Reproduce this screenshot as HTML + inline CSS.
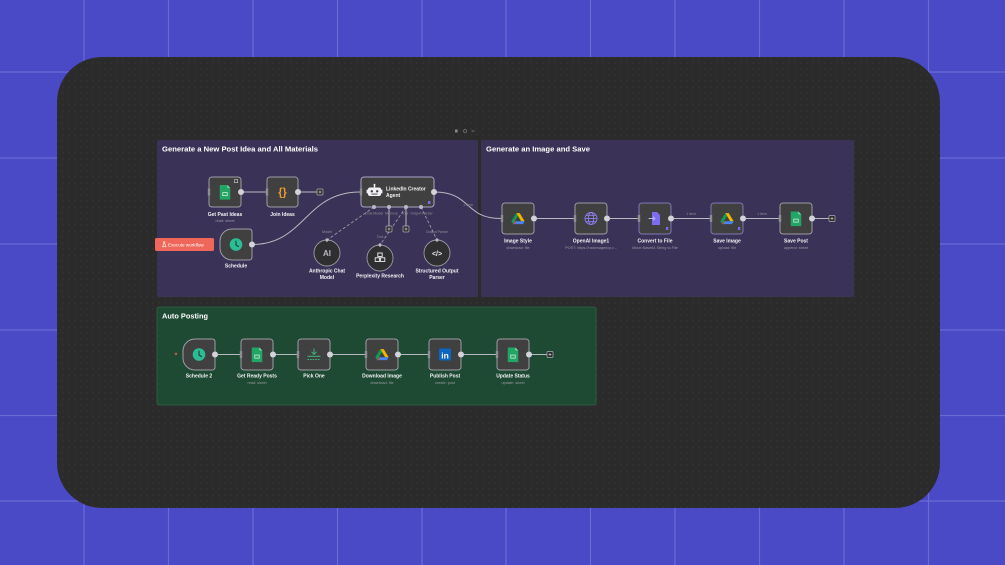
<!DOCTYPE html>
<html><head><meta charset="utf-8"><style>
html,body{margin:0;padding:0;width:1005px;height:565px;overflow:hidden;background:#4a49c6;}
svg{display:block;}
text{font-family:"Liberation Sans",sans-serif;}
.t{fill:#ffffff;font-size:7.6px;font-weight:bold;}
.l{fill:#f2f2f5;font-size:5px;font-weight:bold;text-anchor:middle;}
.s{fill:#9a9aa2;font-size:3.8px;text-anchor:middle;}
.h{fill:#8f8f97;font-size:3.6px;text-anchor:middle;}
.node{fill:#404040;stroke:#9c9ca6;stroke-width:1;}
.cn{fill:none;stroke:#b8b8c0;stroke-width:1;}
.dash{fill:none;stroke:#9a9aa4;stroke-width:0.9;stroke-dasharray:3 2;}
.oh{fill:#d2d2da;}
.ih{fill:#8d8d95;}
</style></head><body>
<svg width="1005" height="565" viewBox="0 0 1005 565" xmlns="http://www.w3.org/2000/svg">
<defs>
<pattern id="dots" width="6" height="6" patternUnits="userSpaceOnUse">
<rect width="6" height="6" fill="#2b2b2b"/>
<circle cx="3" cy="3" r="0.6" fill="#3d3d3d"/>
</pattern>
<symbol id="sheet" viewBox="-6 -7 12 14" overflow="visible">
<path d="M-4,-6 H2 L4.5,-3.5 V6 Q4.5,6.5 4,6.5 H-4 Q-4.5,6.5 -4.5,6 V-5.5 Q-4.5,-6 -4,-6 Z" fill="#22a565"/>
<path d="M2,-6 V-3.5 H4.5 Z" fill="#8fd7b0"/>
<rect x="-2.2" y="0.2" width="4.4" height="3.2" fill="#ffffff" opacity="0.9"/>
<rect x="-1.6" y="0.8" width="3.2" height="2" fill="#22a565"/>
</symbol>
<symbol id="drive" viewBox="-7 -6 14 12" overflow="visible">
<polygon points="-1.6,-5 1.6,-5 6.2,2.6 3,2.6" fill="#f4b400"/>
<polygon points="-1.6,-5 0,-2.3 -4.6,5.2 -6.2,2.6" fill="#0f9d58"/>
<polygon points="-3,2.6 6.2,2.6 4.6,5.2 -4.6,5.2" fill="#4285f4"/>
<polygon points="-4.6,5.2 -3,2.6 -1.6,2.6 -3,5.2" fill="#db4437"/>
</symbol>
</defs>

<!-- background grid -->
<rect width="1005" height="565" fill="#4a49c6"/>
<g stroke="#6c6bd6" stroke-width="1.2">
<line x1="84" y1="0" x2="84" y2="565"/><line x1="168.5" y1="0" x2="168.5" y2="565"/>
<line x1="253" y1="0" x2="253" y2="565"/><line x1="337.5" y1="0" x2="337.5" y2="565"/>
<line x1="422" y1="0" x2="422" y2="565"/><line x1="506" y1="0" x2="506" y2="565"/>
<line x1="590.5" y1="0" x2="590.5" y2="565"/><line x1="675" y1="0" x2="675" y2="565"/>
<line x1="759.5" y1="0" x2="759.5" y2="565"/><line x1="844" y1="0" x2="844" y2="565"/>
<line x1="928.5" y1="0" x2="928.5" y2="565"/>
<line x1="0" y1="72" x2="1005" y2="72"/><line x1="0" y1="158" x2="1005" y2="158"/>
<line x1="0" y1="244" x2="1005" y2="244"/><line x1="0" y1="330" x2="1005" y2="330"/>
<line x1="0" y1="415.5" x2="1005" y2="415.5"/><line x1="0" y1="501" x2="1005" y2="501"/>
</g>

<!-- dark canvas -->
<rect x="57" y="57" width="883" height="451" rx="45" fill="url(#dots)"/>

<!-- top tiny controls -->
<rect x="455" y="129.5" width="2.6" height="3" rx="0.5" fill="#8a8a8a"/>
<circle cx="465" cy="131" r="1.5" fill="none" stroke="#777" stroke-width="0.7"/>
<rect x="471.5" y="130.6" width="3" height="0.9" fill="#777"/>

<!-- sections -->
<rect x="157" y="140" width="321" height="157" rx="2" fill="#3a3357"/>
<rect x="481" y="140" width="373" height="157" rx="2" fill="#3a3357"/>
<rect x="157" y="307" width="439" height="98" rx="2" fill="#1e4a33" stroke="#2c6446" stroke-width="0.8"/>

<text class="t" x="162" y="151.5" textLength="156" lengthAdjust="spacingAndGlyphs">Generate a New Post Idea and All Materials</text>
<text class="t" x="486" y="151.5" textLength="104" lengthAdjust="spacingAndGlyphs">Generate an Image and Save</text>
<text class="t" x="162" y="318.5" textLength="46" lengthAdjust="spacingAndGlyphs">Auto Posting</text>

<!-- ===== SECTION 1 connectors ===== -->
<line class="cn" x1="241" y1="192" x2="266" y2="192"/>
<line class="cn" x1="298" y1="192" x2="317" y2="192"/>
<path class="cn" d="M252,244.5 C305,244.5 305,192 360,192"/>
<path class="cn" d="M434,192 C472,192 464,218.5 501,218.5"/>
<text class="h" x="468" y="206">1 item</text>

<line class="cn" x1="389" y1="207" x2="389" y2="226"/>
<line class="cn" x1="406" y1="207" x2="406" y2="226"/>
<path class="dash" d="M374,207 L327,240"/>
<path class="dash" d="M406,207 L380,245"/>
<path class="dash" d="M421,207 L437,240"/>

<!-- plus boxes -->
<g fill="#2b2b2b" stroke="#b0b0b8" stroke-width="0.7">
<rect x="317" y="189" width="6" height="6" rx="1"/>
<rect x="386" y="226" width="6" height="6" rx="1"/>
<rect x="403" y="226" width="6" height="6" rx="1"/>
</g>
<g stroke="#e0e0e6" stroke-width="0.6">
<line x1="318.5" y1="192" x2="321.5" y2="192"/><line x1="320" y1="190.5" x2="320" y2="193.5"/>
<line x1="387.5" y1="229" x2="390.5" y2="229"/><line x1="389" y1="227.5" x2="389" y2="230.5"/>
<line x1="404.5" y1="229" x2="407.5" y2="229"/><line x1="406" y1="227.5" x2="406" y2="230.5"/>
</g>

<!-- Get Past Ideas -->
<rect class="node" x="209" y="177" width="32" height="30" rx="3"/>
<use href="#sheet" x="218" y="183.5" width="14" height="17"/>
<rect x="234.5" y="179.5" width="3.2" height="3.2" fill="none" stroke="#cfcfd6" stroke-width="0.6"/>
<rect class="ih" x="207.8" y="188.5" width="2.4" height="7"/>
<circle class="oh" cx="241" cy="192" r="3"/>
<text class="l" x="225" y="216">Get Past Ideas</text>
<text class="s" x="225" y="222">read: sheet</text>

<!-- Join Ideas -->
<rect class="node" x="267" y="177" width="31" height="30" rx="3"/>
<text x="282.5" y="195.5" font-size="11" font-weight="bold" fill="#f39a34" text-anchor="middle" font-family="Liberation Mono, monospace">{}</text>
<rect class="ih" x="265.8" y="188.5" width="2.4" height="7"/>
<circle class="oh" cx="298" cy="192" r="3"/>
<text class="l" x="282.5" y="216">Join Ideas</text>

<!-- LinkedIn Creator Agent -->
<rect class="node" x="361" y="177" width="73" height="30" rx="3" style="stroke:#a9a4c8"/>
<g fill="#f0f0f4">
<rect x="368" y="187.5" width="13" height="8.5" rx="2"/>
<rect x="373.8" y="185" width="1.4" height="2.5"/>
<circle cx="374.5" cy="184.8" r="1"/>
<rect x="366.6" y="189.5" width="1.4" height="4" rx="0.6"/>
<rect x="381" y="189.5" width="1.4" height="4" rx="0.6"/>
</g>
<circle cx="371.8" cy="191.3" r="1.2" fill="#404040"/>
<circle cx="377.2" cy="191.3" r="1.2" fill="#404040"/>
<rect x="371.5" y="193.6" width="6" height="0.9" fill="#404040"/>
<text x="386" y="190.5" font-size="5" font-weight="bold" fill="#f2f2f5">LinkedIn Creator</text>
<text x="386" y="197" font-size="5" font-weight="bold" fill="#f2f2f5">Agent</text>
<rect x="428" y="201" width="2.4" height="3" fill="#7b6cf0"/>
<rect class="ih" x="359.8" y="188.5" width="2.4" height="7"/>
<circle class="oh" cx="434" cy="192" r="3"/>
<g fill="#b9b9c2">
<circle cx="374" cy="207" r="2"/><circle cx="389" cy="207" r="2"/>
<circle cx="406" cy="207" r="2"/><circle cx="421" cy="207" r="2"/>
</g>
<text class="h" x="374" y="214.5">Chat Model</text>
<text class="h" x="391.5" y="214.5">Memory</text>
<text class="h" x="405" y="214.5">Tool</text>
<text class="h" x="421.5" y="214.5">Output Parser</text>

<!-- Execute workflow button -->
<rect x="155" y="238" width="59" height="13" rx="1.5" fill="#ef675a"/>
<path d="M163.3,241.8 h2 M163.8,241.8 v2 l-1.3,3 h3.6 l-1.3,-3 v-2" fill="none" stroke="#fff" stroke-width="0.6"/>
<text x="168" y="246.3" font-size="4.6" fill="#ffffff">Execute workflow</text>

<!-- Schedule -->
<path class="node" d="M232,229 H249 Q252,229 252,232 V257 Q252,260 249,260 H232 A12,12 0 0 1 220,248 V241 A12,12 0 0 1 232,229 Z"/>
<circle cx="236" cy="244.5" r="6.3" fill="#2bbd94"/>
<path d="M236,241 V245 L238.5,246.6" fill="none" stroke="#1e3a33" stroke-width="1.1" stroke-linecap="round"/>
<circle class="oh" cx="252" cy="244.5" r="3"/>
<text class="l" x="236" y="267.5">Schedule</text>

<!-- sub nodes -->
<g fill="#2f2f31" stroke="#9a9aa4" stroke-width="0.9">
<circle cx="327" cy="253" r="13"/>
<circle cx="380" cy="258" r="13"/>
<circle cx="437" cy="253" r="13"/>
</g>
<g fill="#b9b9c2">
<rect x="325.5" y="238.5" width="3" height="3" transform="rotate(45 327 240)"/>
<rect x="378.5" y="243.5" width="3" height="3" transform="rotate(45 380 245)"/>
<rect x="435.5" y="238.5" width="3" height="3" transform="rotate(45 437 240)"/>
</g>
<text class="h" x="327" y="233">Model</text>
<text class="h" x="380" y="238">Tool</text>
<text class="h" x="437" y="233">Output Parser</text>
<text x="327" y="256" font-size="8" font-weight="bold" fill="#b8b8c0" text-anchor="middle">AI</text>
<g fill="none" stroke="#f0f0f4" stroke-width="0.9">
<rect x="377.8" y="253" width="4.4" height="3.6"/>
<rect x="375.2" y="257.8" width="4.4" height="3.6"/>
<rect x="380.4" y="257.8" width="4.4" height="3.6"/>
</g>
<text x="437" y="256" font-size="7" font-weight="bold" fill="#f0f0f4" text-anchor="middle" font-family="Liberation Mono, monospace">&lt;/&gt;</text>
<text class="l" x="327" y="272.5">Anthropic Chat</text>
<text class="l" x="327" y="279">Model</text>
<text class="l" x="380" y="277.5">Perplexity Research</text>
<text class="l" x="437" y="272.5">Structured Output</text>
<text class="l" x="437" y="279">Parser</text>

<!-- ===== SECTION 2 ===== -->
<line class="cn" x1="534" y1="218.5" x2="574" y2="218.5"/>
<line class="cn" x1="607" y1="218.5" x2="638" y2="218.5"/>
<line class="cn" x1="671" y1="218.5" x2="710" y2="218.5"/>
<line class="cn" x1="743" y1="218.5" x2="779" y2="218.5"/>
<line class="cn" x1="812" y1="218.5" x2="829" y2="218.5"/>
<text class="h" x="691" y="215">1 item</text>
<text class="h" x="762" y="215">1 item</text>
<rect x="829" y="215.5" width="6" height="6" rx="1" fill="#2b2b2b" stroke="#b0b0b8" stroke-width="0.7"/>
<g stroke="#e0e0e6" stroke-width="0.6"><line x1="830.5" y1="218.5" x2="833.5" y2="218.5"/><line x1="832" y1="217" x2="832" y2="220"/></g>

<!-- Image Style -->
<rect class="node" x="502" y="203" width="32" height="31" rx="3"/>
<use href="#drive" x="510.5" y="212" width="15" height="13"/>
<rect class="ih" x="500.8" y="215" width="2.4" height="7"/>
<circle class="oh" cx="534" cy="218.5" r="3"/>
<text class="l" x="518" y="242.5">Image Style</text>
<text class="s" x="518" y="248.8">download: file</text>

<!-- OpenAI Image1 -->
<rect class="node" x="575" y="203" width="32" height="31" rx="3"/>
<g fill="none" stroke="#8e7ff5" stroke-width="0.9">
<circle cx="591" cy="218.5" r="6"/>
<ellipse cx="591" cy="218.5" rx="2.6" ry="6"/>
<line x1="585" y1="218.5" x2="597" y2="218.5"/>
<line x1="586" y1="215.3" x2="596" y2="215.3"/>
<line x1="586" y1="221.7" x2="596" y2="221.7"/>
</g>
<rect class="ih" x="573.8" y="215" width="2.4" height="7"/>
<circle class="oh" cx="607" cy="218.5" r="3"/>
<text class="l" x="591" y="242.5">OpenAI Image1</text>
<text class="s" x="591" y="248.8">POST: https://naiomagency.c...</text>

<!-- Convert to File -->
<rect class="node" x="639" y="203" width="32" height="31" rx="3" style="stroke:#8077b8"/>
<path d="M652,212 H657 L660,215 V225 H652 Z" fill="#7b6cf0"/>
<path d="M648.5,218.5 H655 M653,216.5 L655,218.5 L653,220.5" fill="none" stroke="#b9b0ff" stroke-width="0.9"/>
<rect x="666" y="227" width="2.2" height="3" fill="#7b6cf0"/>
<rect class="ih" x="637.8" y="215" width="2.4" height="7"/>
<circle class="oh" cx="671" cy="218.5" r="3"/>
<text class="l" x="655" y="242.5">Convert to File</text>
<text class="s" x="655" y="248.8">Move Base64 String to File</text>

<!-- Save Image -->
<rect class="node" x="711" y="203" width="32" height="31" rx="3" style="stroke:#8077b8"/>
<use href="#drive" x="719.5" y="212" width="15" height="13"/>
<rect x="738" y="227" width="2.2" height="3" fill="#7b6cf0"/>
<rect class="ih" x="709.8" y="215" width="2.4" height="7"/>
<circle class="oh" cx="743" cy="218.5" r="3"/>
<text class="l" x="727" y="242.5">Save Image</text>
<text class="s" x="727" y="248.8">upload: file</text>

<!-- Save Post -->
<rect class="node" x="780" y="203" width="32" height="31" rx="3"/>
<use href="#sheet" x="789" y="210" width="14" height="17"/>
<rect class="ih" x="778.8" y="215" width="2.4" height="7"/>
<circle class="oh" cx="812" cy="218.5" r="3"/>
<text class="l" x="796" y="242.5">Save Post</text>
<text class="s" x="796" y="248.8">append: sheet</text>

<!-- ===== SECTION 3 ===== -->
<line class="cn" x1="215" y1="354.5" x2="240" y2="354.5"/>
<line class="cn" x1="273" y1="354.5" x2="297" y2="354.5"/>
<line class="cn" x1="330" y1="354.5" x2="365" y2="354.5"/>
<line class="cn" x1="398" y1="354.5" x2="428" y2="354.5"/>
<line class="cn" x1="461" y1="354.5" x2="496" y2="354.5"/>
<line class="cn" x1="529" y1="354.5" x2="547" y2="354.5"/>
<rect x="547" y="351.5" width="6" height="6" rx="1" fill="#2b2b2b" stroke="#b0b0b8" stroke-width="0.7"/>
<g stroke="#e0e0e6" stroke-width="0.6"><line x1="548.5" y1="354.5" x2="551.5" y2="354.5"/><line x1="550" y1="353" x2="550" y2="356"/></g>

<!-- red asterisk -->
<text x="176" y="357.3" font-size="7" fill="#e8604f" text-anchor="middle" font-weight="bold">*</text>

<!-- Schedule 2 -->
<path class="node" d="M195,339 H212 Q215,339 215,342 V367 Q215,370 212,370 H195 A12,12 0 0 1 183,358 V351 A12,12 0 0 1 195,339 Z"/>
<circle cx="199" cy="354.5" r="6.3" fill="#2bbd94"/>
<path d="M199,351 V355 L201.5,356.6" fill="none" stroke="#1e3a33" stroke-width="1.1" stroke-linecap="round"/>
<circle class="oh" cx="215" cy="354.5" r="3"/>
<text class="l" x="199" y="377.5">Schedule 2</text>

<!-- Get Ready Posts -->
<rect class="node" x="241" y="339" width="32" height="31" rx="3"/>
<use href="#sheet" x="250" y="346" width="14" height="17"/>
<rect class="ih" x="239.8" y="351" width="2.4" height="7"/>
<circle class="oh" cx="273" cy="354.5" r="3"/>
<text class="l" x="257" y="377.5">Get Ready Posts</text>
<text class="s" x="257" y="383.8">read: sheet</text>

<!-- Pick One -->
<rect class="node" x="298" y="339" width="32" height="31" rx="3"/>
<g stroke="#3fb57f" stroke-width="1" fill="none">
<line x1="314" y1="348.5" x2="314" y2="354"/>
<path d="M311.5,351.8 L314,354.3 L316.5,351.8"/>
<line x1="307.5" y1="356.3" x2="320.5" y2="356.3"/>
<line x1="307.5" y1="359.5" x2="320.5" y2="359.5" stroke-dasharray="1.6 1"/>
</g>
<rect class="ih" x="296.8" y="351" width="2.4" height="7"/>
<circle class="oh" cx="330" cy="354.5" r="3"/>
<text class="l" x="314" y="377.5">Pick One</text>

<!-- Download Image -->
<rect class="node" x="366" y="339" width="32" height="31" rx="3"/>
<use href="#drive" x="374.5" y="348" width="15" height="13"/>
<rect class="ih" x="364.8" y="351" width="2.4" height="7"/>
<circle class="oh" cx="398" cy="354.5" r="3"/>
<text class="l" x="382" y="377.5">Download Image</text>
<text class="s" x="382" y="383.8">download: file</text>

<!-- Publish Post -->
<rect class="node" x="429" y="339" width="32" height="31" rx="3"/>
<rect x="439" y="348.5" width="12" height="12" rx="1.2" fill="#0a66c2"/>
<text x="445" y="358.4" font-size="8.5" font-weight="bold" fill="#ffffff" text-anchor="middle">in</text>
<rect class="ih" x="427.8" y="351" width="2.4" height="7"/>
<circle class="oh" cx="461" cy="354.5" r="3"/>
<text class="l" x="445" y="377.5">Publish Post</text>
<text class="s" x="445" y="383.8">create: post</text>

<!-- Update Status -->
<rect class="node" x="497" y="339" width="32" height="31" rx="3"/>
<use href="#sheet" x="506" y="346" width="14" height="17"/>
<rect class="ih" x="495.8" y="351" width="2.4" height="7"/>
<circle class="oh" cx="529" cy="354.5" r="3"/>
<text class="l" x="513" y="377.5">Update Status</text>
<text class="s" x="513" y="383.8">update: sheet</text>
</svg>
</body></html>
